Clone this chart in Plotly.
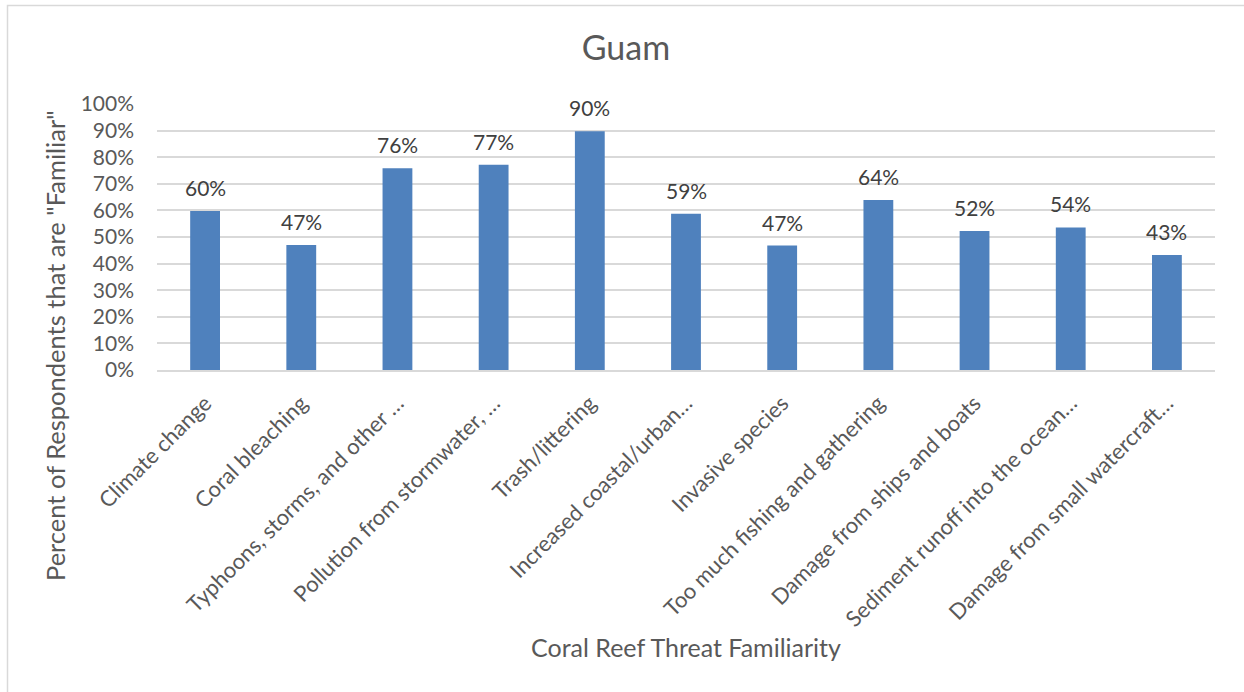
import plotly.graph_objects as go

categories = [
    "Climate change",
    "Coral bleaching",
    "Typhoons, storms, and other …",
    "Pollution from stormwater, …",
    "Trash/littering",
    "Increased coastal/urban…",
    "Invasive species",
    "Too much fishing and gathering",
    "Damage from ships and boats",
    "Sediment runoff into the ocean…",
    "Damage from small watercraft…",
]
values = [0.598, 0.470, 0.758, 0.772, 0.898, 0.587, 0.468, 0.639, 0.523, 0.536, 0.432]
value_labels = ["60%", "47%", "76%", "77%", "90%", "59%", "47%", "64%", "52%", "54%", "43%"]

title_text = "Guam"
x_title = "Coral Reef Threat Familiarity"
y_title = 'Percent of Respondents that are "Familiar"'

FONT = "Lato, 'Open Sans', sans-serif"
W, H = 1244, 692
ML, MR, MT, MB = 157, 29, 104, 322
PW = W - ML - MR
PH = H - MT - MB


def px(x):
    return (x - ML) / PW


def py(y):
    return (H - MB - y) / PH


fig = go.Figure(
    go.Bar(
        x=categories,
        y=values,
        marker=dict(color="#4f81bd", line=dict(color="#4f81bd", width=0)),
        width=0.31,
        hoverinfo="x+y",
    )
)

# data labels above each bar, positioned on the data axes
for c, v, t in zip(categories, values, value_labels):
    fig.add_annotation(x=c, y=v, xref="x", yref="y", text=t, showarrow=False,
                       yanchor="bottom", yshift=9,
                       font=dict(family=FONT, size=21, color="#404040"))

# y axis title (centred on the whole chart height as in the reference)
fig.add_annotation(x=px(55), y=py(346), xref="paper", yref="paper", text=y_title,
                   textangle=-90, showarrow=False, xanchor="center", yanchor="middle",
                   font=dict(family=FONT, size=25.5, color="#595959"))

# chart border
fig.add_shape(type="rect", xref="paper", yref="paper",
              x0=px(7.5), x1=px(W + 20), y0=py(H + 20), y1=py(5.5),
              line=dict(color="#d9d9d9", width=1.5), fillcolor="rgba(0,0,0,0)", layer="below")

fig.update_layout(
    width=W,
    height=H,
    margin=dict(l=ML, r=MR, t=MT, b=MB, pad=0),
    paper_bgcolor="white",
    plot_bgcolor="white",
    showlegend=False,
    font=dict(family=FONT, color="#595959"),
    title=dict(text=title_text, x=626 / W, xanchor="center", y=1 - 48 / H, yanchor="middle",
               font=dict(family=FONT, size=34, color="#595959")),
    xaxis=dict(
        tickangle=-45,
        tickfont=dict(family=FONT, size=22, color="#595959"),
        showgrid=False,
        showline=True,
        linecolor="#d9d9d9",
        linewidth=1.5,
        ticks="",
        ticklabelstandoff=10,
        title=dict(text=x_title, font=dict(family=FONT, size=25, color="#595959"), standoff=9),
    ),
    yaxis=dict(
        range=[0, 1],
        dtick=0.1,
        tickformat=".0%",
        tickfont=dict(family=FONT, size=21, color="#595959"),
        showgrid=True,
        gridcolor="#d9d9d9",
        gridwidth=1.5,
        zeroline=False,
        showline=False,
        ticks="",
        ticklabelstandoff=22,
    ),
)

fig.write_html("out.html", config={"displayModeBar": False},
               post_script="document.body.style.margin='0';")
